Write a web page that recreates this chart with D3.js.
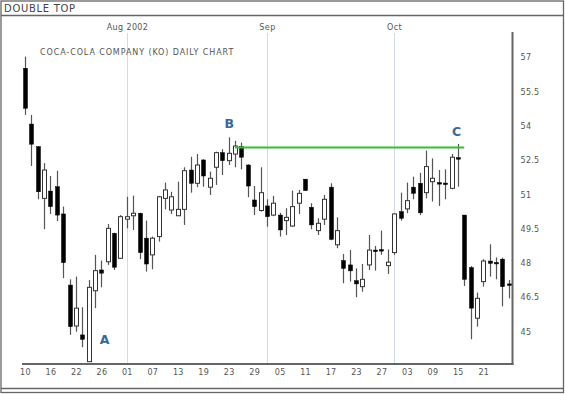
<!DOCTYPE html>
<html>
<head>
<meta charset="utf-8">
<script src="https://cdn.jsdelivr.net/npm/d3@7"></script>
<style>
  html, body { margin: 0; padding: 0; background: #fff; }
  svg { display: block; }
  text { font-family: "DejaVu Sans", Verdana, sans-serif; }
</style>
</head>
<body>
<svg id="chart" width="565" height="394"></svg>
<script>
// ---- data (KO daily, Jul 10 – Oct 25 2002) ----
const dates = ["2002-07-10","2002-07-11","2002-07-12","2002-07-15","2002-07-16","2002-07-17","2002-07-18","2002-07-19",
"2002-07-22","2002-07-23","2002-07-24","2002-07-25","2002-07-26","2002-07-29","2002-07-30","2002-07-31",
"2002-08-01","2002-08-02","2002-08-05","2002-08-06","2002-08-07","2002-08-08","2002-08-09","2002-08-12",
"2002-08-13","2002-08-14","2002-08-15","2002-08-16","2002-08-19","2002-08-20","2002-08-21","2002-08-22",
"2002-08-23","2002-08-26","2002-08-27","2002-08-28","2002-08-29","2002-08-30","2002-09-03","2002-09-04",
"2002-09-05","2002-09-06","2002-09-09","2002-09-10","2002-09-11","2002-09-12","2002-09-13","2002-09-16",
"2002-09-17","2002-09-18","2002-09-19","2002-09-20","2002-09-23","2002-09-24","2002-09-25","2002-09-26",
"2002-09-27","2002-09-30","2002-10-01","2002-10-02","2002-10-03","2002-10-04","2002-10-07","2002-10-08",
"2002-10-09","2002-10-10","2002-10-11","2002-10-14","2002-10-15","2002-10-16","2002-10-17","2002-10-18",
"2002-10-21","2002-10-22","2002-10-23","2002-10-24","2002-10-25"];
const open  = [56.52,54.08,53.09,50.83,51.15,51.34,50.15,47.04,45.25,44.86,43.69,46.79,47.70,48.06,49.30,48.21,
49.92,50.07,50.18,49.09,48.36,49.16,50.83,50.32,50.07,50.35,52.07,51.49,52.51,51.32,52.19,52.83,
52.48,52.77,53.09,52.29,50.76,50.30,50.50,50.10,50.10,49.86,49.62,50.62,51.67,50.44,49.42,49.92,
51.32,48.80,48.11,47.92,47.23,46.97,47.92,48.57,48.59,47.89,48.46,50.25,50.37,51.32,51.49,51.08,
51.56,51.52,51.50,51.27,52.61,50.10,47.80,45.59,47.19,48.09,48.03,48.17,47.09];
const high  = [57.03,54.48,53.12,52.37,51.81,52.04,50.47,47.29,47.41,46.07,47.26,48.36,48.11,49.71,49.33,50.10,
50.90,50.95,50.20,49.86,49.16,50.94,51.52,51.12,51.56,52.19,52.65,52.77,52.54,52.00,52.87,52.98,
53.50,53.35,53.27,52.32,51.37,52.19,50.79,50.94,50.20,50.40,51.17,51.20,51.67,50.62,49.96,50.98,
51.49,50.00,48.40,48.57,47.77,47.96,49.23,48.75,49.42,48.60,50.18,51.08,51.52,51.78,51.95,52.92,
52.58,52.07,52.10,52.77,53.21,50.10,47.87,46.71,48.17,48.82,48.25,48.24,47.26];
const low   = [54.48,52.25,50.79,49.48,50.15,49.84,47.34,44.86,45.00,44.32,43.69,46.03,46.94,47.92,47.70,48.20,
49.52,49.45,48.17,47.63,47.73,48.94,50.35,50.15,50.06,49.67,51.08,51.32,51.34,50.98,51.42,51.85,
52.29,52.19,52.10,50.88,50.10,50.25,49.59,50.05,49.16,49.23,49.59,50.15,51.17,49.48,49.23,49.67,
49.00,48.65,47.12,47.19,46.51,46.75,47.70,47.67,48.36,47.53,48.36,49.86,50.18,50.79,50.10,50.83,
50.69,50.50,50.79,51.23,51.34,47.00,44.67,45.22,46.97,47.41,47.29,46.11,46.46];
const close = [54.77,53.20,51.12,52.07,50.47,50.10,48.02,45.22,46.03,44.67,46.94,47.67,47.56,49.52,47.82,50.03,
50.03,50.18,48.46,47.96,49.09,50.90,51.20,50.90,50.35,52.04,51.49,52.29,51.81,51.71,52.83,52.48,
52.80,53.12,52.63,51.37,50.47,51.08,50.03,50.62,49.45,50.00,50.47,51.05,51.17,49.67,49.74,50.79,
49.04,49.42,47.77,47.66,47.09,47.29,48.57,48.52,48.55,48.04,50.15,49.96,50.73,51.05,50.20,52.22,
51.71,51.48,51.46,52.63,52.57,47.29,46.03,46.46,48.09,47.99,48.00,46.97,47.05];

const yTicks = [45, 46.5, 48, 49.5, 51, 52.5, 54, 55.5, 57];
const yTickLabels = ["45", "46.5", "48", "49.5", "51", "52.5", "54", "55.5", "57"];
const xTickDates = ["2002-07-10","2002-07-16","2002-07-22","2002-07-26","2002-08-01","2002-08-07","2002-08-13",
"2002-08-19","2002-08-23","2002-08-29","2002-09-05","2002-09-11","2002-09-17","2002-09-23","2002-09-27",
"2002-10-03","2002-10-09","2002-10-15","2002-10-21"];
const xTickLabels = ["10","16","22","26","01","07","13","19","23","29","05","11","17","23","27","03","09","15","21"];
const monthNames = ["Aug 2002", "Sep", "Oct"];
const monthStarts = ["2002-08-01", "2002-09-03", "2002-10-01"];

// resistance line (double top) and pattern labels
const topLineFrom = "2002-08-26", topLineTo = "2002-10-16", topLinePrice = 53.05;
const pointLabels = ["A", "B", "C"];
const pointIdx = [12.5, 32.1, 67.8];
const pointPrice = [44.46, 53.91, 53.56];

const title = "DOUBLE TOP";
const subtitle = "COCA-COLA COMPANY (KO) DAILY CHART";

// ---- drawing ----
const svg = d3.select("#chart");
const W = 565, H = 394;
const n = dates.length;

const x = d3.scaleLinear().domain([0, n - 1]).range([25, 508.8]);
const y = d3.scaleLinear().domain([45, 57]).range([331.7, 57.3]);
const idxOf = d => dates.indexOf(d);

// frame
svg.append("rect").attr("x", 1).attr("y", 1).attr("width", W - 2.5).attr("height", H - 2.5)
  .attr("fill", "none").attr("stroke", "#666").attr("stroke-width", 1.3);
svg.append("line").attr("x1", 1).attr("x2", W - 1.5).attr("y1", 15.5).attr("y2", 15.5)
  .attr("stroke", "#666").attr("stroke-width", 1.3);
svg.append("line").attr("x1", 1).attr("x2", W - 1.5).attr("y1", 388.5).attr("y2", 388.5)
  .attr("stroke", "#666").attr("stroke-width", 1.3);

svg.append("text").attr("x", 4).attr("y", 12).attr("font-size", 10).attr("letter-spacing", 0.7)
  .attr("fill", "#444").text(title);

// month grid lines + labels
monthStarts.forEach((m, k) => {
  const xx = Math.round(x(idxOf(m))) + 0.5;
  svg.append("line").attr("x1", xx).attr("x2", xx).attr("y1", 33).attr("y2", 363)
    .attr("stroke", "#cfdbe6").attr("stroke-width", 1);
  svg.append("text").attr("x", xx).attr("y", 30).attr("text-anchor", "middle")
    .attr("font-size", 8).attr("letter-spacing", 0.4).attr("fill", "#555").text(monthNames[k]);
});

svg.append("text").attr("x", 40).attr("y", 54.5).attr("font-size", 8).attr("letter-spacing", 0.9)
  .attr("fill", "#555").text(subtitle);

// axes lines
svg.append("line").attr("x1", 512.5).attr("x2", 512.5).attr("y1", 32).attr("y2", 365)
  .attr("stroke", "#666").attr("stroke-width", 2);
svg.append("line").attr("x1", 22).attr("x2", 513.5).attr("y1", 364).attr("y2", 364)
  .attr("stroke", "#666").attr("stroke-width", 2);

// y axis labels
const yAxis = d3.axisRight(y).tickValues(yTicks).tickSize(0).tickPadding(8)
  .tickFormat((d, i) => yTickLabels[i]);
const gy = svg.append("g").attr("transform", "translate(512.5,0)").call(yAxis);
gy.select(".domain").remove();
gy.selectAll("text").attr("font-size", 8).attr("letter-spacing", 0.3)
  .attr("fill", "#555").style("font-family", "DejaVu Sans");

// x axis labels
const xTicks = xTickDates.map(idxOf);
const xAxis = d3.axisBottom(x).tickValues(xTicks).tickSize(0).tickPadding(5)
  .tickFormat((d, i) => xTickLabels[i]);
const gx = svg.append("g").attr("transform", "translate(0,364)").call(xAxis);
gx.select(".domain").remove();
gx.selectAll("text").attr("font-size", 8).attr("letter-spacing", 0.3)
  .attr("fill", "#555").style("font-family", "DejaVu Sans");

// candles
const bars = d3.range(n).map(i => ({ i, o: open[i], h: high[i], l: low[i], c: close[i] }));
const g = svg.append("g");
const bw = 4;
g.selectAll("line.wick").data(bars).join("line").attr("class", "wick")
  .attr("x1", d => Math.round(x(d.i)) + 0.5).attr("x2", d => Math.round(x(d.i)) + 0.5)
  .attr("y1", d => y(d.h)).attr("y2", d => y(d.l))
  .attr("stroke", "#555").attr("stroke-width", 1.2);
g.selectAll("rect.body").data(bars).join("rect").attr("class", "body")
  .attr("x", d => Math.round(x(d.i)) + 0.5 - bw / 2)
  .attr("width", bw)
  .attr("y", d => y(Math.max(d.o, d.c)))
  .attr("height", d => Math.max(1.5, y(Math.min(d.o, d.c)) - y(Math.max(d.o, d.c))))
  .attr("fill", d => d.c >= d.o ? "#fff" : "#000")
  .attr("stroke", d => d.c >= d.o ? "#333" : "#000")
  .attr("stroke-width", d => d.c >= d.o ? 1 : 0.5);

// resistance line
svg.append("line")
  .attr("x1", x(idxOf(topLineFrom))).attr("x2", x(idxOf(topLineTo)))
  .attr("y1", y(topLinePrice)).attr("y2", y(topLinePrice))
  .attr("stroke", "#33c22e").attr("stroke-width", 2);

// A/B/C labels
pointLabels.forEach((t, k) => {
  svg.append("text").attr("x", x(pointIdx[k])).attr("y", y(pointPrice[k]))
    .attr("text-anchor", "middle").attr("font-size", 12.5).attr("font-weight", "bold")
    .attr("fill", "#3a6796").text(t);
});
</script>
</body>
</html>
